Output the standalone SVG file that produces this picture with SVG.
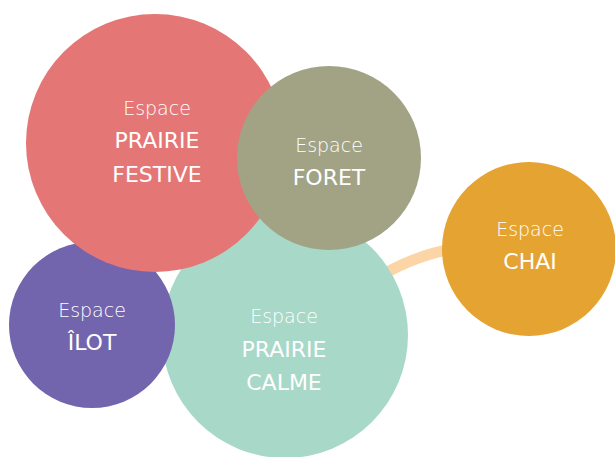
<svg xmlns="http://www.w3.org/2000/svg" width="615" height="457" viewBox="0 0 615 457">
<style>
.t1{font-family:"DejaVu Sans","Liberation Sans",sans-serif;font-weight:300;font-size:19px;fill:#fff;text-anchor:middle}
.t2{font-family:"DejaVu Sans","Liberation Sans",sans-serif;font-weight:400;font-size:22px;fill:#fff;text-anchor:middle}
</style>
<rect width="615" height="457" fill="#fff"/>
<g id="connectors">
<path d="M372 282 Q408 256 462 247" fill="none" stroke="#FCD5A6" stroke-width="11"/>
</g>
<g id="calme">
<circle cx="285" cy="335" r="123" fill="#A8D8C8"/>
<text class="t1" x="284" y="323">Espace</text>
<text class="t2" x="284" y="357">PRAIRIE</text>
<text class="t2" x="284" y="390">CALME</text>
</g>
<g id="ilot">
<circle cx="92" cy="325" r="83" fill="#7265AD"/>
<text class="t1" x="92" y="317">Espace</text>
<text class="t2" x="92" y="350">ÎLOT</text>
</g>
<g id="festive">
<circle cx="155" cy="143" r="129" fill="#E57676"/>
<text class="t1" x="157" y="115">Espace</text>
<text class="t2" x="157" y="148">PRAIRIE</text>
<text class="t2" x="157" y="182">FESTIVE</text>
</g>
<g id="foret">
<circle cx="329" cy="158" r="92" fill="#A2A385"/>
<text class="t1" x="329" y="152">Espace</text>
<text class="t2" x="329" y="185">FORET</text>
</g>
<g id="chai">
<circle cx="529" cy="249" r="87" fill="#E5A332"/>
<text class="t1" x="530" y="236">Espace</text>
<text class="t2" x="530" y="269">CHAI</text>
</g>
</svg>
